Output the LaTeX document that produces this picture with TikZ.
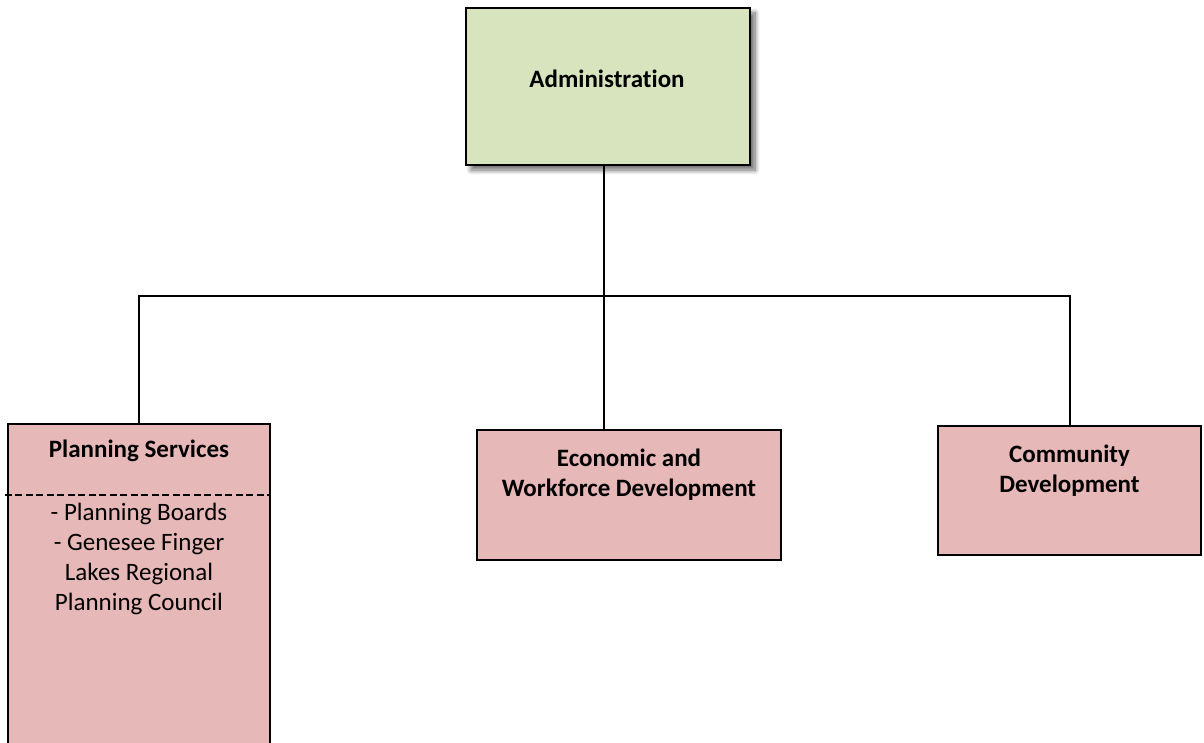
\documentclass[tikz,border=0pt]{standalone}
\usepackage{fontspec}
\setmainfont[Ligatures=NoCommon]{Carlito}
\usetikzlibrary{shadows.blur}
\definecolor{admfill}{HTML}{D7E4BD}
\definecolor{pinkfill}{HTML}{E6B8B7}
\begin{document}
\begin{tikzpicture}[x=1pt,y=-1pt,
  box/.style={draw=black, line width=2.5pt, inner sep=0pt},
  lbl/.style={font=\fontsize{25}{30.5}\selectfont\bfseries, align=center, inner sep=0pt},
  txt/.style={font=\fontsize{25}{30}\selectfont, align=center, inner sep=0pt},
  conn/.style={line width=2pt}]
\clip (0,0) rectangle (1204,743);
\useasboundingbox (0,0) rectangle (1204,743);
% boxes
\node[box, fill=admfill, minimum width=284pt, minimum height=157pt,
      blur shadow={shadow xshift=5pt, shadow yshift=-5pt, shadow blur radius=5pt, shadow blur steps=10, shadow opacity=60}] (admin) at (608,86.5) {};
\node[box, fill=pinkfill, minimum width=262pt, minimum height=340pt] (ps) at (139,594) {};
\node[box, fill=pinkfill, minimum width=304pt, minimum height=130pt] (econ) at (629,495) {};
\node[box, fill=pinkfill, minimum width=263pt, minimum height=129pt] (cd) at (1069.5,490.5) {};
% texts
\node[lbl] (admintxt) at (607,79) {Administration};
\node[lbl] (pstitle) at (139,451) {Planning Services};
\node[txt] (psitems) at (139,558.5) {- Planning Boards\\- Genesee Finger\\Lakes Regional\\Planning Council};
\node[lbl] (econtxt) at (629,474.5) {Economic and\\Workforce Development};
\node[lbl] (cdtxt) at (1069.5,470.5) {Community\\Development};
% dashed separator
\coordinate (sepy) at (0,495);
\draw[line width=2pt, dash pattern=on 7pt off 3.5pt] ([xshift=-2pt]ps.west |- sepy) -- (ps.east |- sepy);
% connectors
\coordinate (hline) at (0,296);
\coordinate (trunk) at (604,0);
\draw[conn] (trunk |- admin.south) -- (trunk |- econ.north);
\draw[conn] (ps.north) -- (ps.north |- hline) -- (cd.north |- hline) -- (cd.north);
\end{tikzpicture}
\end{document}
